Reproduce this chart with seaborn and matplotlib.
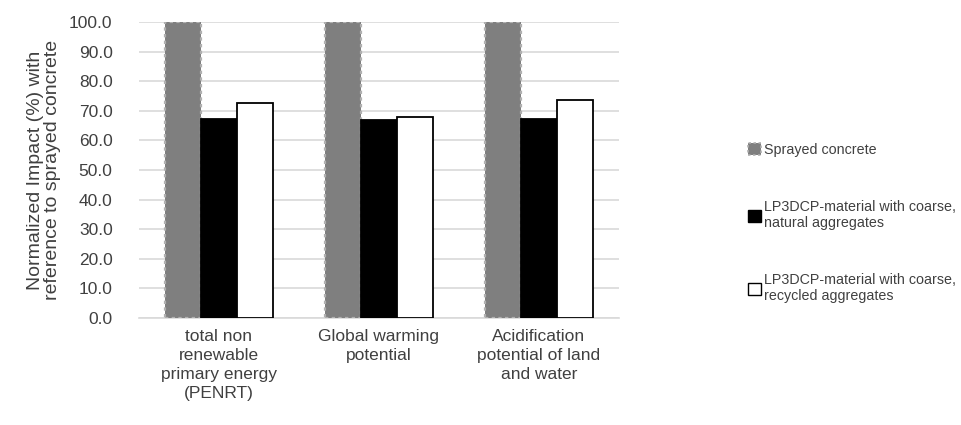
import matplotlib
matplotlib.use("Agg")
import matplotlib.pyplot as plt
import seaborn as sns
import pandas as pd
from matplotlib.patches import Patch

categories = ["total non\nrenewable\nprimary energy\n(PENRT)", "Global warming\npotential",
              "Acidification\npotential of land\nand water"]
series = ["Sprayed concrete",
          "LP3DCP-material with coarse,\nnatural aggregates",
          "LP3DCP-material with coarse,\nrecycled aggregates"]
sprayed = [100.0, 100.0, 100.0]
natural = [67.2, 66.9, 67.2]
recycled = [72.8, 67.8, 73.5]
yticks = [0, 10, 20, 30, 40, 50, 60, 70, 80, 90, 100]

rows = []
for vals, s in zip([sprayed, natural, recycled], series):
    for c, v in zip(categories, vals):
        rows.append({"cat": c, "series": s, "value": v})
df = pd.DataFrame(rows)

sns.set_theme(style="white")
plt.rcParams['font.family'] = ['Liberation Sans', 'DejaVu Sans']

fig = plt.figure(figsize=(9.61, 4.25), dpi=100)
ax = fig.add_axes([139/961, 1-318/425, 480/961, 296/425])

palette = {series[0]: "#7f7f7f", series[1]: "#000000", series[2]: "#ffffff"}
sns.barplot(data=df, x="cat", y="value", hue="series", palette=palette,
            width=0.67, ax=ax, legend=False, saturation=1)

edges = ["#b0b0b0", "#000000", "#000000"]
styles = [(0, (1.5, 1.5)), "solid", "solid"]
for i, cont in enumerate(ax.containers):
    for p in cont.patches:
        p.set_edgecolor(edges[i])
        p.set_linestyle(styles[i])
        p.set_linewidth(1.6 if i == 0 else 1.3)
        p.set_zorder(3)

ax.set_ylim(0, 100)
ax.set_xlim(-0.5, 2.5)
ax.set_yticks(yticks)
ax.set_yticklabels([f"{v:.1f}" for v in yticks], fontsize=12.5, color="#404040")
ax.tick_params(axis="x", labelsize=12.5, labelcolor="#404040", length=0, pad=8)
for t in ax.get_xticklabels():
    t.set_linespacing(1.32)
ax.tick_params(axis="y", length=0, pad=19)
ax.grid(axis="y", color="#d9d9d9", linewidth=1.2, zorder=0)
ax.set_axisbelow(True)
for s in ["top", "right", "left"]:
    ax.spines[s].set_visible(False)
ax.spines["bottom"].set_color("#d9d9d9")
ax.spines["bottom"].set_linewidth(1.2)
ax.set_xlabel("")
ax.set_ylabel("Normalized Impact (%) with\nreference to sprayed concrete", fontsize=14,
              color="#404040", linespacing=0.95, labelpad=6)

handles = [Patch(facecolor="#7f7f7f", edgecolor="#b0b0b0", linestyle=(0, (1.5, 1.5)), linewidth=1.2),
           Patch(facecolor="#000000", edgecolor="#000000"),
           Patch(facecolor="#ffffff", edgecolor="#000000", linewidth=1.0)]
leg = fig.legend(handles, series, loc="upper left", bbox_to_anchor=(748/961, 1-143/425),
                 frameon=False, fontsize=10.3, handlelength=0.9, handleheight=0.9,
                 handletextpad=0.25, labelspacing=3.0, borderpad=0, borderaxespad=0)
for t in leg.get_texts():
    t.set_color("#404040")

fig.savefig("out.png", dpi=100)
